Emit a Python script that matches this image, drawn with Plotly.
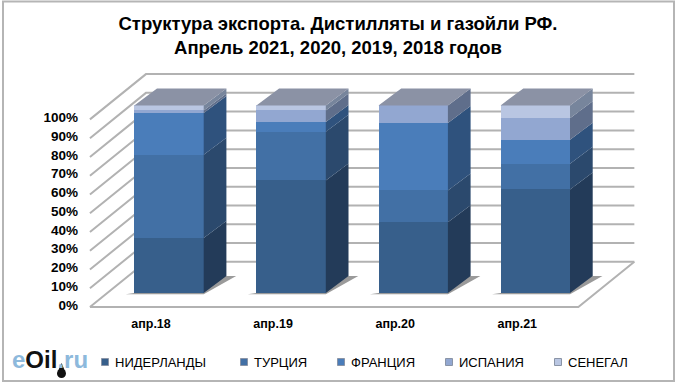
import plotly.graph_objects as go

# ---------- data ----------
categories = ["апр.18", "апр.19", "апр.20", "апр.21"]
nederlandy = [29.3, 60.0, 37.7, 55.2]
turtsiya = [44.4, 25.9, 17.0, 13.7]
frantsiya = [22.2, 5.3, 35.9, 12.8]
ispaniya = [1.4, 6.1, 9.4, 11.5]
senegal = [2.7, 2.7, 0.0, 6.8]
series_names = ["НИДЕРЛАНДЫ", "ТУРЦИЯ", "ФРАНЦИЯ", "ИСПАНИЯ", "СЕНЕГАЛ"]
series_values = [nederlandy, turtsiya, frantsiya, ispaniya, senegal]
y_ticks = [0, 10, 20, 30, 40, 50, 60, 70, 80, 90, 100]
y_tick_labels = [f"{t}%" for t in y_ticks]

front_colors = ["#375F8B", "#4270A5", "#4A7DBA", "#92A7D1", "#B9C6E2"]
side_colors = ["#233B59", "#2B496D", "#2F527D", "#5F6E8B", "#77859C"]
top_color = "#8B92A5"
grid_color = "#B2B2B2"

W, H = 680, 385
# plot window in pixels
L, R, T, B = 79, 650, 60, 312
PX_Y = 1.876    # pixels per percent
PX_X = 122.1    # pixels per category
# origin of the two depth planes, in pixels
FLOOR_X0, FLOOR_Y0 = 151.0, 307.0     # front edge of the floor (axis labels)
BAR_X0, BAR_Y0 = 169.0, 293.0         # front faces of the bars
WALL_DX, WALL_DY = 56.0 / PX_X, 45.3 / PX_Y  # floor front edge to back wall
BAR_DX, BAR_DY = 22.7 / PX_X, 17.0 / PX_Y    # depth of a bar
BAR_W = 69.4 / PX_X
SHIFT_X, SHIFT_Y = (BAR_X0 - FLOOR_X0) / PX_X, (FLOOR_Y0 - BAR_Y0) / PX_Y


def xr(x0):
    return [(L - x0) / PX_X, (R - x0) / PX_X]


def yr(y0):
    return [(y0 - B) / PX_Y, (y0 - T) / PX_Y]


fig = go.Figure()
n = len(categories)

# back wall and left wall gridlines, on the lower axes (front-floor plane)
left, right = -0.5, n - 0.5
gx, gy = [], []
for t in y_ticks:
    gx += [left, left + WALL_DX, right + WALL_DX, None]
    gy += [t, t + WALL_DY, t + WALL_DY, None]
fig.add_trace(go.Scatter(x=gx, y=gy, mode="lines", line=dict(color=grid_color, width=2),
                         hoverinfo="skip", showlegend=False))
# floor outline
fig.add_trace(go.Scatter(x=[left, right, right + WALL_DX], y=[0, 0, WALL_DY], mode="lines",
                         line=dict(color=grid_color, width=2), hoverinfo="skip", showlegend=False))
# bar shadows on the floor
sx, sy = [], []
for i in range(n):
    x_l = i + SHIFT_X - BAR_W / 2
    x_r = i + SHIFT_X + BAR_W / 2
    sx += [x_l - 0.07, x_r, x_r + BAR_DX + 0.08, x_r + BAR_DX, x_l, None]
    sy += [SHIFT_Y - 0.6, SHIFT_Y - 0.6, SHIFT_Y + BAR_DY, SHIFT_Y + BAR_DY, SHIFT_Y, None]
fig.add_trace(go.Scatter(x=sx, y=sy, mode="lines", fill="toself", fillcolor="rgba(120,120,120,0.75)",
                         line=dict(width=0), hoverinfo="skip", showlegend=False))

# front faces of the stacked bars
x_pos = list(range(n))
for name, vals, col in zip(series_names, series_values, front_colors):
    fig.add_trace(go.Bar(x=x_pos, y=vals, name=name, width=BAR_W, marker=dict(color=col, line=dict(width=0)),
                         xaxis="x2", yaxis="y2", showlegend=False, customdata=categories,
                         hovertemplate="%{customdata}<br>" + name + ": %{y}%<extra></extra>"))

# side faces
totals = [0.0] * n
for vals, col in zip(series_values, side_colors):
    px_, py_ = [], []
    for i, v in enumerate(vals):
        a, b = totals[i], totals[i] + v
        x_r = i + BAR_W / 2
        px_ += [x_r, x_r + BAR_DX, x_r + BAR_DX, x_r, x_r, None]
        py_ += [a, a + BAR_DY, b + BAR_DY, b, a, None]
        totals[i] = b
    fig.add_trace(go.Scatter(x=px_, y=py_, mode="lines", fill="toself", fillcolor=col, line=dict(width=0),
                             xaxis="x2", yaxis="y2", hoverinfo="skip", showlegend=False))

# top faces
tx, ty = [], []
for i in range(n):
    x_l, x_r = i - BAR_W / 2, i + BAR_W / 2
    tx += [x_l, x_r, x_r + BAR_DX, x_l + BAR_DX, x_l, None]
    ty += [totals[i], totals[i], totals[i] + BAR_DY, totals[i] + BAR_DY, totals[i], None]
fig.add_trace(go.Scatter(x=tx, y=ty, mode="lines", fill="toself", fillcolor=top_color, line=dict(width=0),
                         xaxis="x2", yaxis="y2", hoverinfo="skip", showlegend=False))

dom_x = [L / W, R / W]
dom_y = [1 - B / H, 1 - T / H]
FONT = "Liberation Sans, Arial, sans-serif"

# legend drawn at the reference's uneven spacing
legend_marks = [105, 244, 341, 449, 558]
annotations, shapes = [], []
for name, col, mx in zip(series_names, front_colors, legend_marks):
    shapes.append(dict(type="rect", xref="paper", yref="paper",
                       x0=(mx - 3.5) / W, x1=(mx + 3.5) / W, y0=1 - 365.5 / H, y1=1 - 358.5 / H,
                       fillcolor=col, line=dict(color="#8A94A6", width=1)))
    annotations.append(dict(text=name, xref="paper", yref="paper", x=(mx + 8) / W, y=1 - 362.5 / H,
                            xanchor="left", yanchor="middle", showarrow=False,
                            font=dict(family=FONT, size=13, color="#000000")))

# outer frame
shapes.append(dict(type="rect", xref="paper", yref="paper", x0=3 / W, x1=674 / W, y0=1 - 381 / H, y1=1 - 1.5 / H,
                   line=dict(color="#B5B5B5", width=2), fillcolor="rgba(0,0,0,0)"))

# logo
annotations.append(dict(text='<span style="color:#8DB9DC">e</span><span style="color:#111111">Oil</span>'
                             '<span style="color:#8DB9DC">.ru</span>',
                        xref="paper", yref="paper", x=10 / W, y=1 - 359 / H, xanchor="left", yanchor="middle",
                        showarrow=False, font=dict(family=FONT, size=24, weight="bold")))
shapes.append(dict(type="circle", xref="paper", yref="paper", x0=57 / W, x1=66 / W, y0=1 - 378 / H, y1=1 - 369 / H,
                   fillcolor="#111111", line=dict(width=0)))
shapes.append(dict(type="path", xref="paper", yref="paper",
                   path=f"M {61.5 / W} {1 - 363 / H} L {58 / W} {1 - 371 / H} L {65 / W} {1 - 371 / H} Z",
                   fillcolor="#111111", line=dict(width=0)))

fig.update_layout(
    width=W, height=H, margin=dict(l=0, r=0, t=0, b=0), autosize=False,
    paper_bgcolor="white", plot_bgcolor="rgba(0,0,0,0)", barmode="stack", bargap=0,
    font=dict(family=FONT, color="#000000"),
    title=dict(text="Структура экспорта. Дистилляты и газойли РФ.<br>Апрель 2021, 2020, 2019, 2018 годов",
               x=338 / W, xanchor="center", y=1 - 30 / H, yanchor="middle", automargin=False,
               font=dict(family=FONT, size=18.5, color="#000000", weight="bold")),
    xaxis=dict(domain=dom_x, range=xr(FLOOR_X0), tickmode="array", tickvals=x_pos, ticktext=categories,
               showgrid=False, zeroline=False, showline=False, ticks="", anchor="y", automargin=False,
               ticklabelstandoff=2,
               tickfont=dict(family=FONT, size=12.5, weight="bold")),
    yaxis=dict(domain=dom_y, range=yr(FLOOR_Y0), tickmode="array", tickvals=y_ticks, ticktext=y_tick_labels,
               showgrid=False, zeroline=False, showline=False, ticks="", anchor="x", automargin=False,
               ticklabelshift=-2,
               tickfont=dict(family=FONT, size=13.5, weight="bold")),
    xaxis2=dict(domain=dom_x, range=xr(BAR_X0), overlaying="x", visible=False, anchor="y2", automargin=False),
    yaxis2=dict(domain=dom_y, range=yr(BAR_Y0), overlaying="y", visible=False, anchor="x2", automargin=False),
    annotations=annotations, shapes=shapes,
)

fig.write_html("out.html", config=dict(displayModeBar=False),
               post_script="document.body.style.margin='0';document.body.style.overflow='hidden';")
